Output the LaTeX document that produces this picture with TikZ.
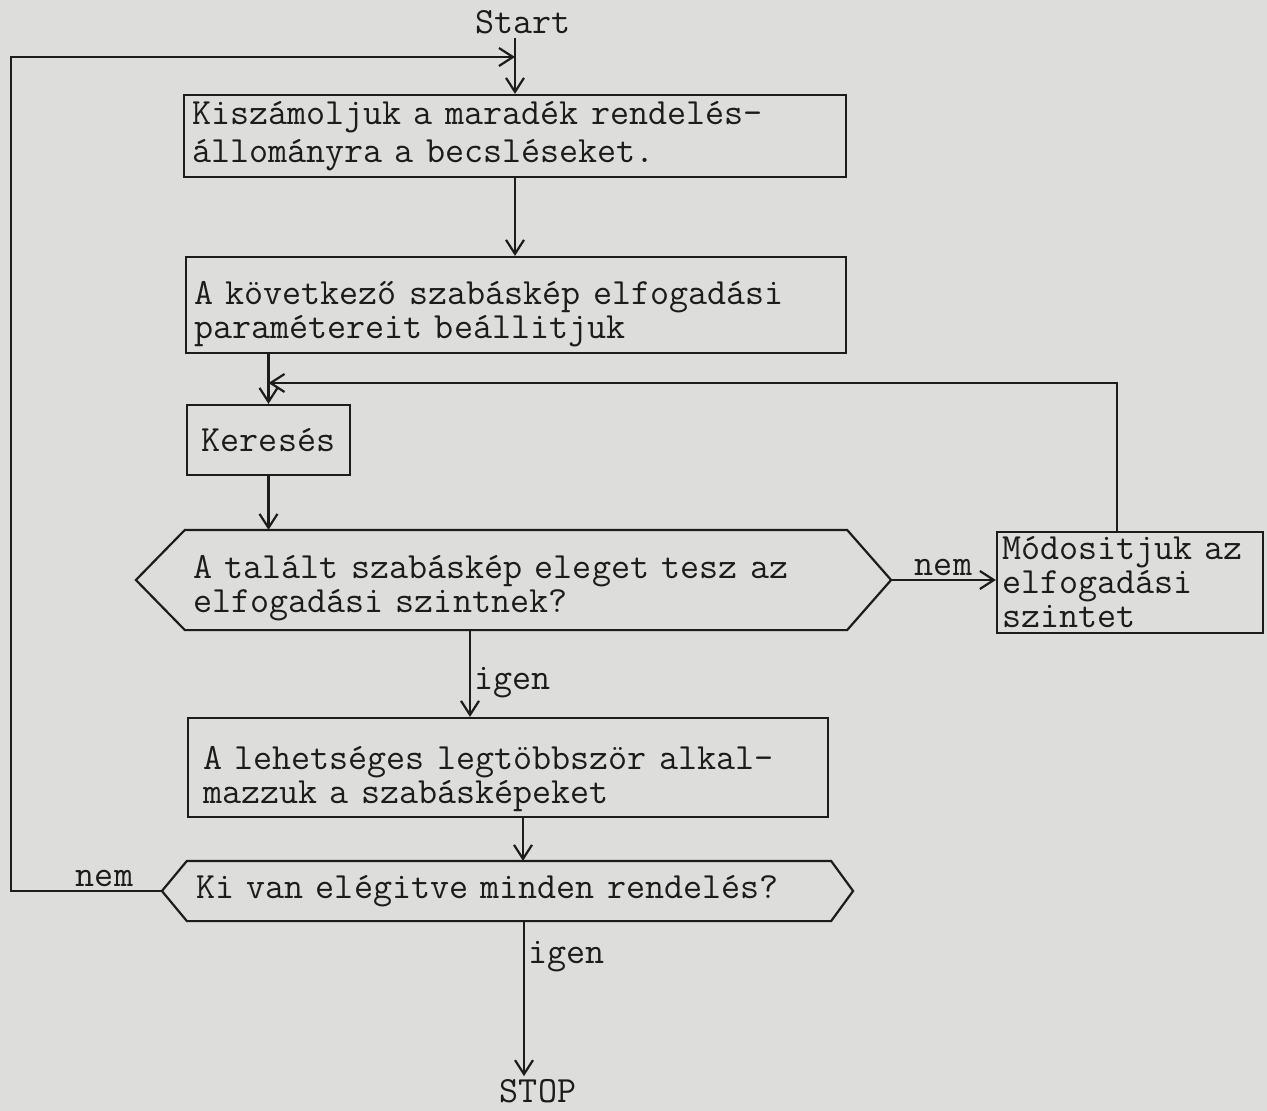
\documentclass[tikz,border=0pt]{standalone}
\usepackage{fontspec}
\usepackage{tikz}
\usetikzlibrary{arrows.meta}
\definecolor{paper}{RGB}{221,222,220}
\definecolor{ink}{RGB}{28,28,28}

\begin{document}
\begin{tikzpicture}[x=1pt, y=-1pt, line width=2.2pt, color=ink,
    >={Straight Barb[length=14pt,width=18pt]},
    every node/.style={font=\ttfamily\fontsize{37}{34}\selectfont},
    box/.style={draw, align=left, inner sep=0pt}]
  \fill [paper] (0,0) rectangle (1267,1111);
  \node (1) at (523,22)
    {Start};
  \node [box, minimum width=662pt, minimum height=82pt, text width=646pt]
    (2) at (515,136)
    {Kiszámoljuk a maradék rendelés-\\[4pt]állományra a becsléseket.};
  \node [box, minimum width=660pt, minimum height=96pt, text width=644pt,
    text depth=25pt] (3) at (516,305)
    {A következő szabáskép elfogadási\\paramétereit beállitjuk};
  \node [box, minimum width=163pt, minimum height=70pt] (4) at (268.5,440)
    {Keresés};
  \node [box, draw=none, minimum width=660pt, minimum height=98pt,
    text width=646pt, text depth=27pt] (5) at (516,580)
    {A talált szabáskép eleget tesz az\\elfogadási szintnek?};
  \node [box, minimum width=266pt, minimum height=101pt, text width=256pt]
    (6) at (1130,582.5)
    {Módositjuk az\\elfogadási\\szintet};
  \node [box, minimum width=640pt, minimum height=99pt, text width=610pt,
    text depth=19pt] (7) at (508,767.5)
    {A lehetséges legtöbbször alkal-\\mazzuk a szabásképeket};
  \node [box, draw=none, minimum width=642pt, minimum height=58pt,
    text width=626pt] (8) at (509,891)
    {Ki van elégitve minden rendelés?};
  \node [inner sep=2pt] (9) at (538,1091)
    {STOP};
  % decision shapes
  \coordinate (l5) at ([xshift=-49pt]5.west);
  \coordinate (r5) at ([xshift=44pt]5.east);
  \coordinate (l8) at ([xshift=-25pt]8.west);
  \coordinate (r8) at ([xshift=22pt]8.east);
  \draw (5.north west) -- (5.north east) -- (r5) -- (5.south east)
    -- (5.south west) -- (l5) -- cycle;
  \draw (8.north west) -- (8.north east) -- (r8) -- (8.south east)
    -- (8.south west) -- (l8) -- cycle;
  % junctions of the loops
  \coordinate (j1) at (515,57);
  \coordinate (j2) at (268.5,383);
  \draw [->] (2.north |- 1.south) to (2.north);
  \draw [->] (2.south) to (2.south |- 3.north);
  \draw [->] (3.south -| 4.north) to (4.north);
  \draw [->] (4.south) to (4.south |- 5.north);
  \draw [->] (r5) to node [above]
    {nem} (r5 -| 6.west);
  \draw [->] ([xshift=-13pt]6.north) |- (j2);
  \draw [->] ([xshift=-38pt]7.north |- 5.south) to node [right, pos=0.6]
    {igen} ([xshift=-38pt]7.north);
  \draw [->] ([xshift=15pt]7.south) to ([xshift=15pt]7.south |- 8.north);
  \draw [->] (l8) to node [above, pos=0.38]
    {nem} ++(-151,0) |- (j1);
  \draw [->] ([xshift=15pt]8.south) to node [right, pos=0.23]
    {igen} ([xshift=15pt]8.south |- 9.north);
\end{tikzpicture}
\end{document}
